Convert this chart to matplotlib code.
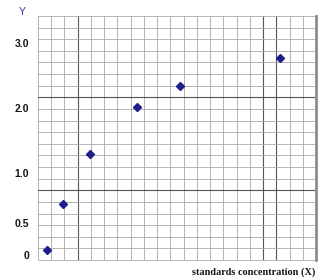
#!/usr/bin/env python3
"""Standards calibration points drawn on graph paper."""

import numpy as np
import matplotlib

matplotlib.use("Agg")
import matplotlib.pyplot as plt


# concentration readings (grid units, axis carries no numbers)
conc = [0.65, 1.9, 3.95, 7.5, 10.7, 18.3]
# response readings, in the units of the y labels
resp = [0.08, 0.69, 1.30, 2.02, 2.35, 2.78]

y_tick_values = [0, 0.5, 1.0, 2.0, 3.0]
y_tick_labels = ["0", "0.5", "1.0", "2.0", "3.0"]
# the printed y labels are not evenly spaced: where each sits on the 21-row paper
y_tick_rows = [0.4, 3.2, 7.45, 13.05, 18.65]

N_COLS = 21
N_ROWS = 21
DARK_COLS = [3, 17, 18]
DARK_ROWS = [6, 14]


def _row_scale():
    vals = np.array(y_tick_values, dtype=float)
    rows = np.array(y_tick_rows, dtype=float)
    lo_slope = (vals[1] - vals[0]) / (rows[1] - rows[0])
    hi_slope = (vals[-1] - vals[-2]) / (rows[-1] - rows[-2])
    # extend linearly past both ends so the paper edges map too
    vals = np.concatenate([[vals[0] - 10 * lo_slope], vals, [vals[-1] + 10 * hi_slope]])
    rows = np.concatenate([[rows[0] - 10], rows, [rows[-1] + 10]])

    def forward(v):
        return np.interp(v, vals, rows)

    def inverse(r):
        return np.interp(r, rows, vals)

    return forward, inverse


def main():
    fig = plt.figure(figsize=(3.2, 2.79), dpi=100)
    ax = fig.add_axes([38 / 320, 19 / 279, 278 / 320, 244 / 279])

    forward, inverse = _row_scale()
    ax.set_yscale("function", functions=(forward, inverse))
    ax.set_xlim(0, N_COLS)
    ax.set_ylim(inverse(0), inverse(N_ROWS))

    # graph paper
    light = "#a8a8a8"
    dark = "#555555"
    for i in range(N_COLS + 1):
        ax.axvline(i, color=dark if i in DARK_COLS else light,
                   lw=0.8 if i in DARK_COLS else 0.6, zorder=1)
    for j in range(N_ROWS + 1):
        ax.plot([0, 1], [j / N_ROWS, j / N_ROWS], transform=ax.transAxes,
                color=dark if j in DARK_ROWS else light,
                lw=0.8 if j in DARK_ROWS else 0.6, zorder=1, clip_on=False)
    ax.plot([1, 1], [0, 1], transform=ax.transAxes, color="#8c8c8c",
            lw=2.0, zorder=2, clip_on=False)

    ax.plot(conc, resp, linestyle="none", marker="D", markersize=4.5,
            color="#1f1f8c", zorder=3, clip_on=False)

    for side in ax.spines.values():
        side.set_visible(False)
    ax.set_xticks([])
    ax.set_yticks(y_tick_values)
    ax.set_yticklabels(y_tick_labels, fontsize=7.5, fontweight="bold",
                       family="Liberation Sans", color="#151515")
    ax.tick_params(axis="y", length=0, pad=6.5)
    ax.minorticks_off()

    fig.text(22 / 320, 1 - 12 / 279, "Y", fontsize=7.5, color="#3838a8",
             family="Liberation Sans", ha="center", va="center")
    fig.text(315 / 320, 1 - 272 / 279, "standards concentration (X)",
             fontsize=7.4, fontweight="bold", family="Liberation Serif",
             color="#151515", ha="right", va="center")

    fig.savefig("out.png", dpi=100)
    plt.close(fig)


if __name__ == "__main__":
    main()
